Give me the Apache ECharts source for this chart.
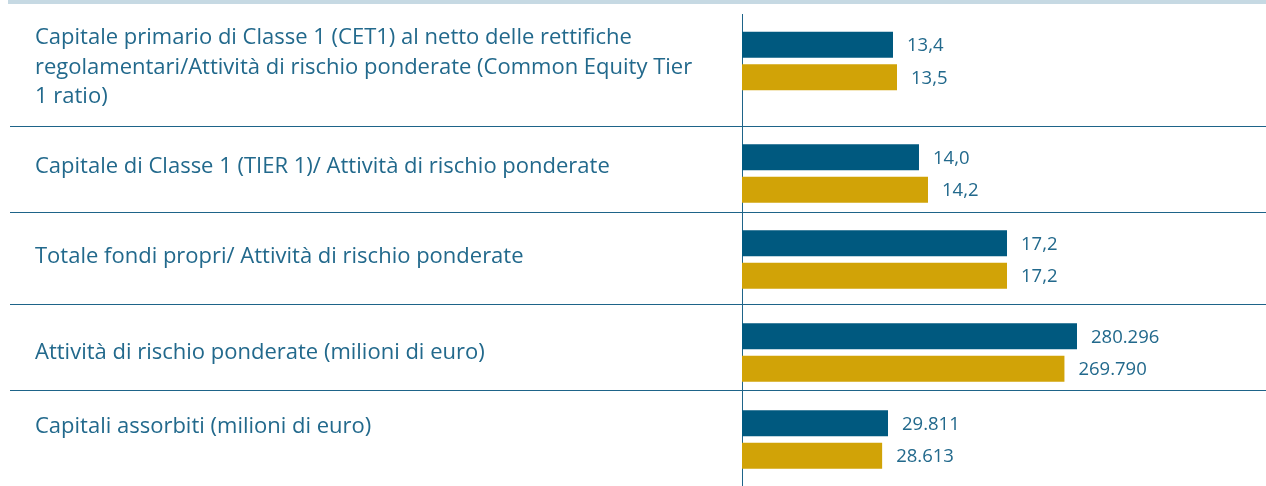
<!DOCTYPE html>
<html>
<head>
<meta charset="utf-8">
<script src="https://cdn.jsdelivr.net/npm/echarts@6/dist/echarts.min.js"></script>
<style>
  html, body { margin: 0; padding: 0; background: #fff; }
  #chart { width: 1266px; height: 486px; }
</style>
</head>
<body>
<div id="chart"></div>
<script>
// categories (left column), top to bottom
const categories = [
  'Capitale primario di Classe 1 (CET1) al netto delle rettifiche\nregolamentari/Attività di rischio ponderate (Common Equity Tier\n1 ratio)',
  'Capitale di Classe 1 (TIER 1)/ Attività di rischio ponderate',
  'Totale fondi propri/ Attività di rischio ponderate',
  'Attività di rischio ponderate (milioni di euro)',
  'Capitali assorbiti (milioni di euro)'
]
// blue bars (upper) and gold bars (lower)
const valuesBlue = [13.4, 14.0, 17.2, 280296, 29811]
const valuesGold = [13.5, 14.2, 17.2, 269790, 28613]
const decimals = [1, 1, 1, 0, 0]

// each row has its own scale in the original
const axisMin = [9.625, 10.067, 0, 0, 0]
const axisMax = [22.725, 21.711, 34.01, 438433, 106990]
const rowCenter = [61, 173.5, 259.5, 352.5, 439.5]
const textCenter = [67.5, 167, 257, 353, 427]
const separators = [126, 212, 304, 390]

const FONT = "'Open Sans', 'Noto Sans', sans-serif"
const COLORS = {
  blue: '#00597f',
  gold: '#d1a307',
  text: '#22698c',
  line: '#1e6489',
  band: '#c6d9e3'
}

function fmt(v, dec) {
  const parts = v.toFixed(dec).split('.')
  const int = parts[0].replace(/\B(?=(\d{3})+(?!\d))/g, '.')
  return parts.length > 1 ? int + ',' + parts[1] : int
}

const chart = echarts.init(document.getElementById('chart'), null, { renderer: 'canvas' })

const grids = [], xAxes = [], yAxes = [], series = []
const graphic = [
  { type: 'rect', shape: { x: 8, y: 0, width: 1258, height: 4 }, style: { fill: COLORS.band } },
  { type: 'line', shape: { x1: 742.5, y1: 14, x2: 742.5, y2: 486 }, style: { stroke: COLORS.line, lineWidth: 1 } }
]
separators.forEach(y => {
  graphic.push({ type: 'line', shape: { x1: 10, y1: y + 0.5, x2: 1266, y2: y + 0.5 }, style: { stroke: COLORS.line, lineWidth: 1 } })
})

categories.forEach((name, i) => {
  grids.push({ left: 742, right: 0, top: rowCenter[i] - 30, height: 60 })
  xAxes.push({
    type: 'value', gridIndex: i, min: axisMin[i], max: axisMax[i],
    show: false
  })
  yAxes.push({
    type: 'category', gridIndex: i, data: [name], show: false
  })
  // category name in the left column
  graphic.push({
    type: 'text', left: 35, top: textCenter[i] - (name.split('\n').length * 29.5) / 2,
    style: {
      text: name, fontFamily: FONT, fontSize: 22, fill: COLORS.text,
      lineHeight: 29.5
    }
  })
  const label = {
    show: true, position: 'right', distance: 14, offset: [0, 1],
    fontFamily: FONT, fontSize: 18.5, color: COLORS.text,
    formatter: p => fmt(p.value, decimals[i])
  }
  series.push({
    type: 'bar', xAxisIndex: i, yAxisIndex: i, data: [valuesBlue[i]],
    barWidth: 26, barGap: '25%', itemStyle: { color: COLORS.blue },
    label, silent: true
  })
  series.push({
    type: 'bar', xAxisIndex: i, yAxisIndex: i, data: [valuesGold[i]],
    barWidth: 26, barGap: '25%', itemStyle: { color: COLORS.gold },
    label, silent: true
  })
})

chart.setOption({
  animation: false,
  grid: grids,
  xAxis: xAxes,
  yAxis: yAxes,
  series,
  graphic
})
</script>
</body>
</html>
